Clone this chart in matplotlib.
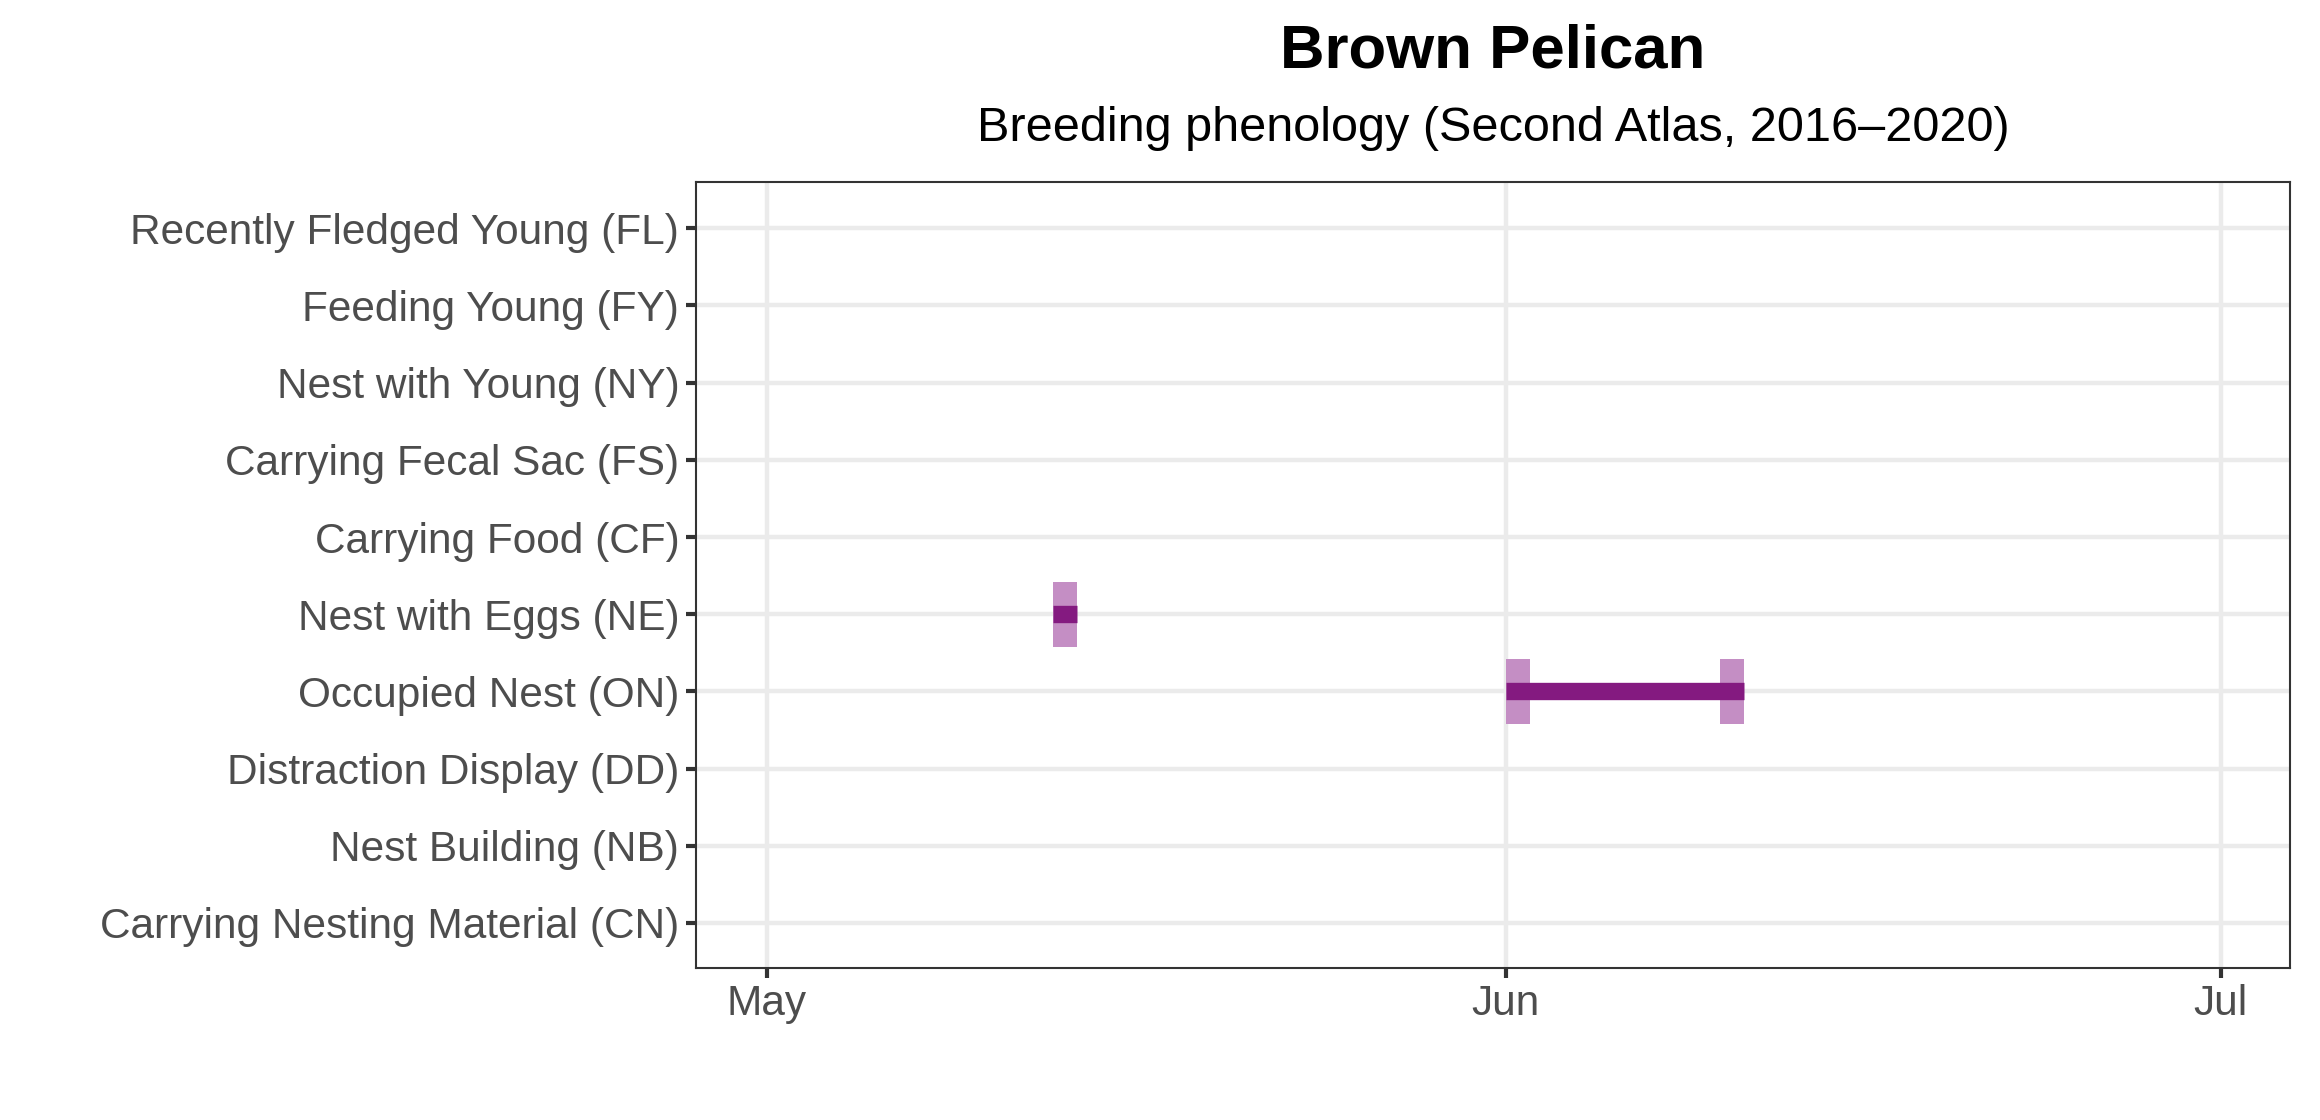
import matplotlib.pyplot as plt
from matplotlib.patches import Rectangle

plt.rcParams["font.family"] = ["Liberation Sans", "DejaVu Sans"]

CATEGORIES = [
    "Carrying Nesting Material (CN)",
    "Nest Building (NB)",
    "Distraction Display (DD)",
    "Occupied Nest (ON)",
    "Nest with Eggs (NE)",
    "Carrying Food (CF)",
    "Carrying Fecal Sac (FS)",
    "Nest with Young (NY)",
    "Feeding Young (FY)",
    "Recently Fledged Young (FL)",
]
# days after May 1
OBS_CODES = ["NE", "ON"]
OBS_START = [12, 31]
OBS_END = [13, 41]
MONTH_TICKS = [0, 31, 61]
MONTH_LABELS = ["May", "Jun", "Jul"]

DARK = "#841a80"
LIGHT = "#c48ec4"

fig = plt.figure(figsize=(23.2, 11.2), dpi=100)
ax = fig.add_axes([0.300, 0.136, 0.687, 0.7015])

codes = [c.split("(")[1].rstrip(")") for c in CATEGORIES]
for code, s, e in zip(OBS_CODES, OBS_START, OBS_END):
    y = codes.index(code)
    ax.add_patch(Rectangle((s, y - 0.42), 1, 0.84, color=LIGHT, lw=0, zorder=3))
    ax.add_patch(Rectangle((e - 1, y - 0.42), 1, 0.84, color=LIGHT, lw=0, zorder=3))
    ax.plot([s, e], [y, y], color=DARK, lw=12.5, solid_capstyle="butt", zorder=4)

ax.set_xlim(-2.98, 63.9)
ax.set_ylim(-0.58, 9.6)
ax.set_yticks(range(len(CATEGORIES)))
ax.set_yticklabels(CATEGORIES)
ax.set_xticks(MONTH_TICKS)
ax.set_xticklabels(MONTH_LABELS)
ax.grid(True, color="#ebebeb", lw=3.2, zorder=0)
ax.set_axisbelow(True)
ax.tick_params(axis="both", labelsize=30.5, labelcolor="#4d4d4d", color="#333333",
               length=7, width=3, pad=5)
for sp in ax.spines.values():
    sp.set_color("#333333")
    sp.set_linewidth(1.5)

cx = 0.300 + 0.687 / 2
fig.text(cx, 0.954, "Brown Pelican", ha="center", va="center", fontsize=44.5, fontweight="bold")
fig.text(cx, 0.885, "Breeding phenology (Second Atlas, 2016\u20132020)", ha="center",
         va="center", fontsize=35)

fig.savefig("out.png", dpi=100)
